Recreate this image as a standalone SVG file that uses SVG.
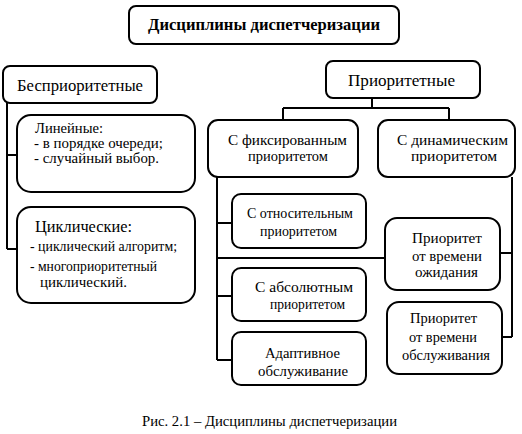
<svg xmlns="http://www.w3.org/2000/svg" width="522" height="434" viewBox="0 0 522 434">
<style>
.box{fill:#fff;stroke:#000;stroke-width:2;}
.ln{fill:none;stroke:#000;stroke-width:2;}
text{font-family:"Liberation Serif","Times New Roman",serif;fill:#000;font-size:15px;}
.t{font-weight:bold;font-size:16px;}
.h{font-size:17px;}
</style>
<rect width="522" height="434" fill="#fff"/>
<g id="connectors">
<path class="ln" d="M372 98V108M283 108H449M283 108V120M449 108V120"/>
<path class="ln" d="M7 103V249M7 155H17M7 249H17"/>
<path class="ln" d="M217 177V360M217 223H232M217 258H385M217 296H232M217 360H232"/>
<path class="ln" d="M512 177V337M500 253H512M502 337H512"/>
</g>
<g id="title"><rect class="box" x="129" y="6" width="270" height="38" rx="7"/><text class="t" x="148" y="30" textLength="232" lengthAdjust="spacingAndGlyphs">Дисциплины диспетчеризации</text></g>
<g id="bespr"><rect class="box" x="3" y="66" width="154" height="37" rx="7"/><text class="h" x="17" y="91" textLength="126" lengthAdjust="spacingAndGlyphs">Бесприоритетные</text></g>
<g id="prior"><rect class="box" x="326" y="61" width="154" height="37" rx="7"/><text class="h" x="348" y="86" textLength="107" lengthAdjust="spacingAndGlyphs">Приоритетные</text></g>
<g id="linear"><rect class="box" x="17" y="115" width="178" height="77" rx="14"/>
<text x="35" y="133" textLength="68" lengthAdjust="spacingAndGlyphs">Линейные:</text>
<text x="34" y="148" textLength="129" lengthAdjust="spacingAndGlyphs">- в порядке очереди;</text>
<text x="34" y="163" textLength="125" lengthAdjust="spacingAndGlyphs">- случайный выбор.</text></g>
<g id="cyclic"><rect class="box" x="17" y="207" width="178" height="96" rx="14"/>
<text x="35" y="232" style="font-size:16px" textLength="97" lengthAdjust="spacingAndGlyphs">Циклические:</text>
<text x="30" y="251" textLength="147" lengthAdjust="spacingAndGlyphs">- циклический алгоритм;</text>
<text x="30" y="271" textLength="127" lengthAdjust="spacingAndGlyphs">- многоприоритетный</text>
<text x="40" y="287" textLength="87" lengthAdjust="spacingAndGlyphs">циклический.</text></g>
<g id="fixed"><rect class="box" x="208" y="120" width="150" height="57" rx="10"/>
<text x="228" y="145" textLength="119" lengthAdjust="spacingAndGlyphs">С фиксированным</text><text x="248" y="161" textLength="80" lengthAdjust="spacingAndGlyphs">приоритетом</text></g>
<g id="dynamic"><rect class="box" x="378" y="120" width="137" height="57" rx="10"/>
<text x="397" y="145" textLength="111" lengthAdjust="spacingAndGlyphs">С динамическим</text><text x="411" y="161" textLength="86" lengthAdjust="spacingAndGlyphs">приоритетом</text></g>
<g id="relative"><rect class="box" x="232" y="194" width="134" height="54" rx="9"/>
<text x="247" y="218" textLength="106" lengthAdjust="spacingAndGlyphs">С относительным</text><text x="260" y="236" textLength="77" lengthAdjust="spacingAndGlyphs">приоритетом</text></g>
<g id="absolute"><rect class="box" x="232" y="268" width="134" height="53" rx="9"/>
<text x="255" y="292" textLength="98" lengthAdjust="spacingAndGlyphs">С абсолютным</text><text x="270" y="309" textLength="75" lengthAdjust="spacingAndGlyphs">приоритетом</text></g>
<g id="adaptive"><rect class="box" x="232" y="332" width="134" height="53" rx="9"/>
<text x="265" y="358" textLength="75" lengthAdjust="spacingAndGlyphs">Адаптивное</text><text x="258" y="376" textLength="90" lengthAdjust="spacingAndGlyphs">обслуживание</text></g>
<g id="wait"><rect class="box" x="385" y="218" width="115" height="72" rx="12"/>
<text x="412" y="243" textLength="70" lengthAdjust="spacingAndGlyphs">Приоритет</text><text x="412" y="261" textLength="70" lengthAdjust="spacingAndGlyphs">от времени</text><text x="415" y="277" textLength="63" lengthAdjust="spacingAndGlyphs">ожидания</text></g>
<g id="service"><rect class="box" x="387" y="302" width="115" height="72" rx="12"/>
<text x="410" y="323" textLength="67" lengthAdjust="spacingAndGlyphs">Приоритет</text><text x="409" y="342" textLength="68" lengthAdjust="spacingAndGlyphs">от времени</text><text x="402" y="360" textLength="88" lengthAdjust="spacingAndGlyphs">обслуживания</text></g>
<text x="142" y="426" style="font-size:14px" textLength="255" lengthAdjust="spacingAndGlyphs">Рис. 2.1 – Дисциплины диспетчеризации</text>
</svg>
